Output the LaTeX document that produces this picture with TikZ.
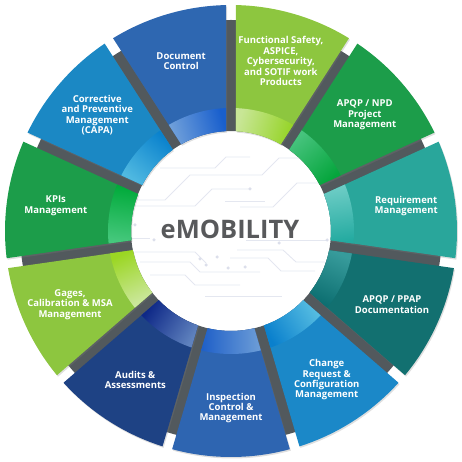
\documentclass[tikz,border=0pt]{standalone}
\usepackage{fontspec}
\setmainfont{Open Sans}
\usetikzlibrary{shadows}

\definecolor{ringGray}{RGB}{82,89,93}
\definecolor{traceGray}{RGB}{228,231,240}
\definecolor{dotGray}{RGB}{220,223,235}
\definecolor{titleGray}{RGB}{88,89,91}
% 各セグメントの色
\definecolor{cIns}{RGB}{46,101,177}   \definecolor{pIns}{RGB}{110,158,215}  \definecolor{dIns}{RGB}{30,95,200}
\definecolor{cAud}{RGB}{30,66,132}    \definecolor{pAud}{RGB}{95,130,190}   \definecolor{dAud}{RGB}{14,40,135}
\definecolor{cGag}{RGB}{141,198,63}   \definecolor{pGag}{RGB}{205,232,160}  \definecolor{dGag}{RGB}{155,214,35}
\definecolor{cKpi}{RGB}{28,157,74}    \definecolor{pKpi}{RGB}{70,200,125}   \definecolor{dKpi}{RGB}{0,170,58}
\definecolor{cCap}{RGB}{27,136,196}   \definecolor{pCap}{RGB}{80,185,225}   \definecolor{dCap}{RGB}{10,130,205}
\definecolor{cDoc}{RGB}{46,103,177}   \definecolor{pDoc}{RGB}{112,160,218}  \definecolor{dDoc}{RGB}{25,95,205}
\definecolor{cFun}{RGB}{141,198,63}   \definecolor{pFun}{RGB}{200,230,150}  \definecolor{dFun}{RGB}{150,212,40}
\definecolor{cNpd}{RGB}{28,157,74}    \definecolor{pNpd}{RGB}{70,195,125}   \definecolor{dNpd}{RGB}{5,165,60}
\definecolor{cReq}{RGB}{41,166,155}   \definecolor{pReq}{RGB}{110,205,198}  \definecolor{dReq}{RGB}{35,170,160}
\definecolor{cPpa}{RGB}{18,112,112}   \definecolor{pPpa}{RGB}{55,155,155}   \definecolor{dPpa}{RGB}{12,110,112}
\definecolor{cChg}{RGB}{27,136,200}   \definecolor{pChg}{RGB}{85,188,225}   \definecolor{dChg}{RGB}{10,128,205}

\begin{document}
\begin{tikzpicture}[x=1pt,y=1pt,
    seglabel/.style={text=white,align=center,inner sep=0pt,
      font=\bfseries\fontsize{9.5}{10.4}\selectfont},
    trace/.style={draw=traceGray,line width=0.9pt,line join=round},
    pin/.style={fill=dotGray,circle,inner sep=0pt,minimum size=3.5pt}]
  \useasboundingbox (-231,-231) rectangle (231,231);

  % 中央の回路模様
  \begin{scope}[shift={(-231,231)},yscale=-1]
    \draw[trace] (133,200) -- (165,200) -- (190,175) -- (262,175) -- (279,158) -- (312,158);
    \draw[trace] (128,206) -- (195,206) -- (212,189) -- (250,189);
    \draw[trace] (160,168) -- (215,168) -- (226,157) -- (250,157);
    \draw[trace] (225,201) -- (265,201);
    \draw[trace] (240,207) -- (273,207) -- (297,183) -- (325,183);
    \draw[trace] (125,238) -- (150,238);
    \draw[trace] (246,240) -- (327,240);
    \draw[trace] (135,252) -- (195,252) -- (206,263);
    \draw[trace] (140,262) -- (190,262) -- (200,272) -- (260,272);
    \draw[trace] (150,275) -- (185,275) -- (195,285) -- (240,285);
    \draw[trace] (237,250) -- (283,250) -- (296,262) -- (327,262);
    \draw[trace] (230,258) -- (268,258) -- (281,271) -- (315,271);
    \draw[trace] (205,296) -- (282,296);
    \foreach \p in {(135,225),(154,240),(200,259),(206,265),(217,257),(228,268),
                    (245,267),(279,243),(327,240),(312,158),(250,189),(325,183)}
      \node[pin] at \p {};
  \end{scope}

  % 灰色のリング
  \fill[ringGray,even odd rule] (0,0) circle (211) (0,0) circle (100);

  % セグメント
  \foreach \ang/\col/\txt [count=\i] in {
      270/Ins/{Inspection\\Control \&\\Management},
      237.27/Aud/{Audits \&\\Assessments},
      204.55/Gag/{Gages,\\Calibration \& MSA\\Management},
      171.82/Kpi/{KPIs\\Management},
      139.09/Cap/{Corrective\\and Preventive\\Management\\(CAPA)},
      106.36/Doc/{Document\\Control},
      73.64/Fun/{Functional Safety,\\ASPICE,\\Cybersecurity,\\and SOTIF work\\Products},
      40.91/Npd/{APQP / NPD\\Project\\Management},
      8.18/Req/{Requirement\\Management},
      -24.55/Ppa/{APQP / PPAP\\Documentation},
      -57.27/Chg/{Change\\Request \&\\Configuration\\Management}} {
    \pgfmathsetmacro\ao{16.364-asin(5/226)}
    \pgfmathsetmacro\ai{16.364-asin(5/100)}
    \pgfmathsetmacro\ab{16.364-asin(5/123)}
    \pgfmathsetmacro\sa{\ang-180}
    \fill[c\col,drop shadow={opacity=0.25,shadow xshift=1pt,shadow yshift=-1.5pt}]
      ({\ang-\ao}:226) arc[start angle=\ang-\ao,end angle=\ang+\ao,radius=226]
      -- ({\ang+\ai}:100) arc[start angle=\ang+\ai,end angle=\ang-\ai,radius=100] -- cycle;
    \shade[top color=d\col,bottom color=p\col,shading angle=\sa]
      ({\ang-\ab}:123) arc[start angle=\ang-\ab,end angle=\ang+\ab,radius=123]
      -- ({\ang+\ai}:100) arc[start angle=\ang+\ai,end angle=\ang-\ai,radius=100] -- cycle;
    \node[seglabel] (seg\i) at (\ang:177) {\txt};
  }

  % タイトル
  \node[text=titleGray,font=\bfseries\fontsize{25.5}{28}\selectfont] (title) at (-1,2) {eMOBILITY};
\end{tikzpicture}
\end{document}
